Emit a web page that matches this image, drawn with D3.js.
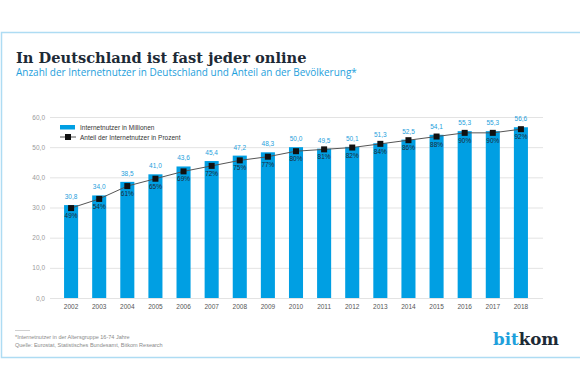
<!DOCTYPE html>
<html><head><meta charset="utf-8">
<script src="https://cdn.jsdelivr.net/npm/d3@7"></script>
<style>body{margin:0;background:#fff}svg{display:block}</style>
</head><body>
<svg id="c" width="580" height="390"></svg>
<script>
const years = ["2002","2003","2004","2005","2006","2007","2008","2009","2010","2011","2012","2013","2014","2015","2016","2017","2018"];
const users = [30.8,34.0,38.5,41.0,43.6,45.4,47.2,48.3,50.0,49.5,50.1,51.3,52.5,54.1,55.3,55.3,56.6];
const share = [49,54,61,65,69,72,75,77,80,81,82,84,86,88,90,90,92];
const yTicks = [0,10,20,30,40,50,60];

const svg = d3.select("#c");
const fmt1 = d => d.toFixed(1).replace(".", ",");
const sans = "'Liberation Sans', Arial, sans-serif";

function fitWidth(sel, w) {
  const fs = +sel.attr("font-size");
  const bw = sel.node().getBBox().width;
  sel.attr("font-size", fs * w / bw);
}

// frame
svg.append("path").attr("d","M580,32.5 H1.5 V357.5 H580").attr("fill","none")
  .attr("stroke","#aedcf3").attr("stroke-width",1.5);

const title = svg.append("text").attr("x",16).attr("y",63).text("In Deutschland ist fast jeder online")
  .attr("font-family","'DejaVu Serif', serif").attr("font-weight","bold").attr("font-size",15).attr("fill","#1d2a36");
fitWidth(title, 291);
const sub = svg.append("text").attr("x",16).attr("y",76).text("Anzahl der Internetnutzer in Deutschland und Anteil an der Bevölkerung*")
  .attr("font-family","'Open Sans', sans-serif").attr("font-size",10).attr("fill","#1ea0dc");
fitWidth(sub, 342);

const x = d3.scaleBand().domain(years).range([50,542]).padding(0.5);
const y = d3.scaleLinear().domain([0,60]).range([298,117]);
const yp = d3.scaleLinear().domain([0,100]).range([298,114.5]);

// grid
const yAxis = d3.axisLeft(y).tickValues(yTicks).tickSize(-493).tickFormat(fmt1).tickPadding(5);
const ga = svg.append("g").attr("transform","translate(50,0)").call(yAxis);
ga.select(".domain").remove();
ga.selectAll("line").attr("stroke","#e3e3e3").attr("stroke-width",1);
ga.selectAll("text").attr("font-family",sans).attr("font-size",6.5).attr("fill","#9a9a9a");

// bars
svg.append("g").selectAll("rect").data(years).join("rect")
  .attr("x",d=>x(d)).attr("width",x.bandwidth())
  .attr("y",(d,i)=>y(users[i])).attr("height",(d,i)=>y(0)-y(users[i]))
  .attr("fill","#009fe3");

// value labels
svg.append("g").selectAll("text").data(years).join("text")
  .attr("x",d=>x(d)+x.bandwidth()/2).attr("y",(d,i)=>y(users[i])-6)
  .attr("text-anchor","middle").text((d,i)=>fmt1(users[i]))
  .attr("font-family",sans).attr("font-size",6.5).attr("fill","#1ea0dc");

// line
const line = d3.line().x(d=>x(d[0])+x.bandwidth()/2).y(d=>yp(d[1]));
svg.append("path").datum(years.map((d,i)=>[d,share[i]])).attr("d",line)
  .attr("fill","none").attr("stroke","#555").attr("stroke-width",1);
svg.append("g").selectAll("rect").data(years).join("rect")
  .attr("x",d=>x(d)+x.bandwidth()/2-3).attr("y",(d,i)=>yp(share[i])-3)
  .attr("width",6).attr("height",6).attr("fill","#111");
svg.append("g").selectAll("text").data(years).join("text")
  .attr("x",d=>x(d)+x.bandwidth()/2).attr("y",(d,i)=>yp(share[i])+10)
  .attr("text-anchor","middle").text((d,i)=>share[i]+"%")
  .attr("font-family",sans).attr("font-size",6.5).attr("fill","#1d2a36");

// x axis labels
const xa = svg.append("g").attr("transform","translate(0,298)").call(d3.axisBottom(x).tickSize(0).tickPadding(6));
xa.select(".domain").remove();
xa.selectAll("text").attr("font-family",sans).attr("font-size",6.5).attr("fill","#555");

// legend
svg.append("rect").attr("x",60).attr("y",125).attr("width",15).attr("height",4.5).attr("fill","#009fe3");
svg.append("text").attr("x",80).attr("y",129.5).text("Internetnutzer in Millionen")
  .attr("font-family",sans).attr("font-size",6.5).attr("fill","#333");
svg.append("line").attr("x1",60).attr("x2",76).attr("y1",137).attr("y2",137).attr("stroke","#555");
svg.append("rect").attr("x",65).attr("y",134).attr("width",6).attr("height",6).attr("fill","#111");
svg.append("text").attr("x",80).attr("y",139.5).text("Anteil der Internetnutzer in Prozent")
  .attr("font-family",sans).attr("font-size",6.5).attr("fill","#333");

// footer
svg.append("line").attr("x1",15).attr("x2",30).attr("y1",330.5).attr("y2",330.5).attr("stroke","#bbb").attr("stroke-width",0.7);
svg.append("text").attr("x",15).attr("y",339).text("*Internetnutzer in der Altersgruppe 16-74 Jahre")
  .attr("font-family",sans).attr("font-size",5.5).attr("fill","#8a8a8a");
svg.append("text").attr("x",15).attr("y",346.5).text("Quelle: Eurostat, Statistisches Bundesamt, Bitkom Research")
  .attr("font-family",sans).attr("font-size",5.5).attr("fill","#8a8a8a");

// logo
const logo = svg.append("text").attr("x",493).attr("y",345)
  .attr("font-family","'DejaVu Serif', serif").attr("font-weight","bold").attr("font-size",20);
logo.append("tspan").text("bit").attr("fill","#1ea0dc");
logo.append("tspan").text("kom").attr("fill","#1d2a36");
fitWidth(logo, 66);
</script>
</body></html>
